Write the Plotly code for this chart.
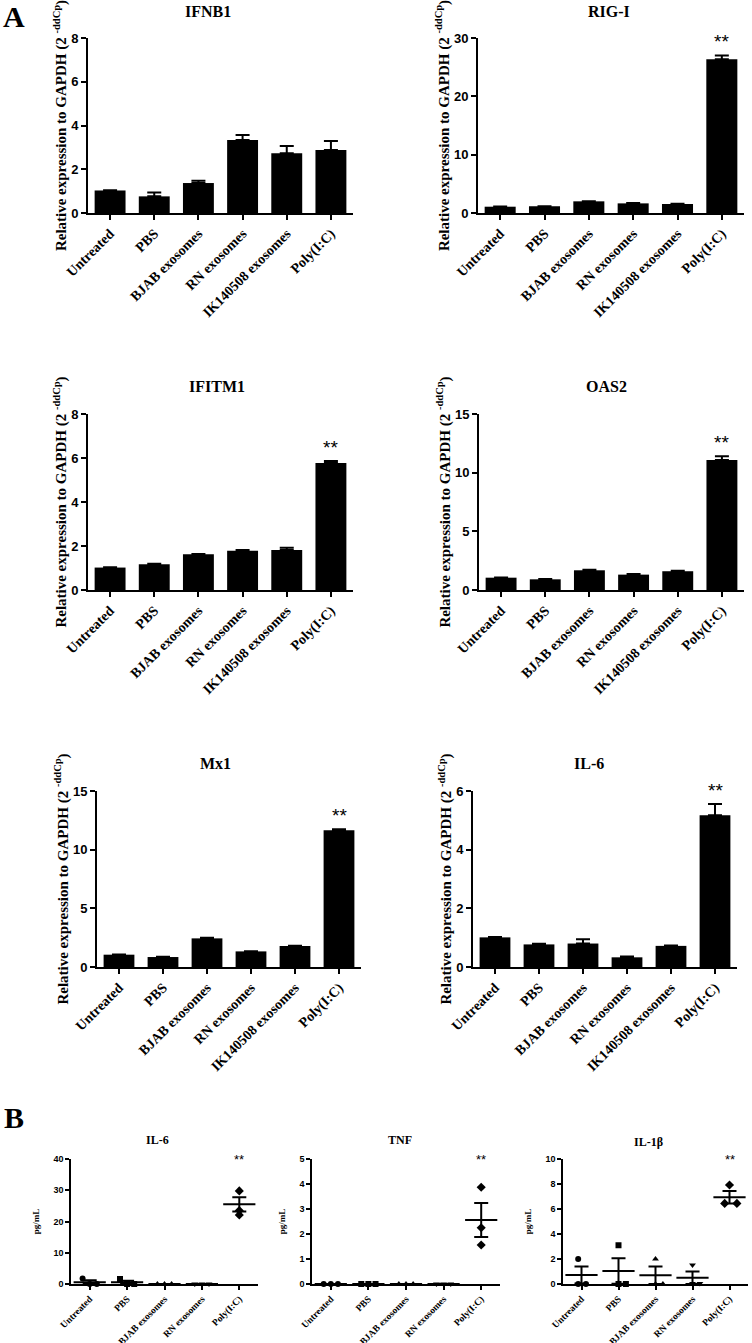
import plotly.graph_objects as go

W, H = 752, 1343
OFF = 0

# ---------------- data ----------------
CATS_A = ["Untreated", "PBS", "BJAB exosomes", "RN exosomes", "IK140508 exosomes", "Poly(I:C)"]
CATS_B = ["Untreated", "PBS", "BJAB exosomes", "RN exosomes", "Poly(I:C)"]

IFNB1_MEAN = [1.03, 0.76, 1.37, 3.34, 2.73, 2.88]
IFNB1_SEM = [0.01, 0.18, 0.10, 0.23, 0.33, 0.41]
RIGI_MEAN = [1.08, 1.14, 2.00, 1.65, 1.54, 26.35]
RIGI_SEM = [0.02, 0.03, 0.03, 0.05, 0.04, 0.65]
IFITM1_MEAN = [1.02, 1.17, 1.62, 1.78, 1.82, 5.77]
IFITM1_SEM = [0.01, 0.02, 0.02, 0.04, 0.10, 0.09]
OAS2_MEAN = [1.05, 0.91, 1.68, 1.31, 1.60, 11.07]
OAS2_SEM = [0.02, 0.02, 0.05, 0.05, 0.04, 0.32]
MX1_MEAN = [1.05, 0.85, 2.44, 1.33, 1.79, 11.65]
MX1_SEM = [0.02, 0.03, 0.06, 0.02, 0.03, 0.08]
IL6A_MEAN = [1.01, 0.77, 0.80, 0.33, 0.72, 5.17]
IL6A_SEM = [0.01, 0.02, 0.15, 0.03, 0.01, 0.39]

# panel B: individual replicates per group, means and SEM
IL6B_POINTS = [[1.8, 0.0, 0.0], [1.6, 0.0, 0.0], [0.0, 0.0, 0.0], [0.0, 0.0, 0.0], [29.8, 23.5, 22.1]]
IL6B_MEAN = [0.6, 0.53, 0.0, 0.0, 25.5]
IL6B_SEM = [0.6, 0.53, 0.0, 0.0, 2.3]
TNF_POINTS = [[0.0, 0.0, 0.0], [0.0, 0.0, 0.0], [0.0, 0.0, 0.0], [0.0, 0.0, 0.0], [3.87, 2.25, 1.56]]
TNF_MEAN = [0.0, 0.0, 0.0, 0.0, 2.56]
TNF_SEM = [0.0, 0.0, 0.0, 0.0, 0.68]
IL1B_POINTS = [[2.0, 0.0, 0.0], [3.1, 0.0, 0.0], [2.0, 0.0, 0.0], [1.52, 0.05, 0.05], [7.92, 6.45, 6.45]]
IL1B_MEAN = [0.72, 1.05, 0.70, 0.50, 6.95]
IL1B_SEM = [0.68, 1.02, 0.70, 0.50, 0.50]

# ---------------- styling / layout ----------------
SERIF = "Liberation Serif"
SANS = "Liberation Sans"
SYMBOLS_B = ["circle", "square", "triangle-up", "triangle-down", "diamond"]

JIT_IL6 = [[-0.19, 0, 0.19], [-0.19, 0, 0.19], [-0.19, 0, 0.19], [-0.19, 0, 0.19], [0, 0, 0]]
JIT_TNF = [[-0.19, 0, 0.19], [-0.19, 0, 0.19], [-0.19, 0, 0.19], [-0.19, 0, 0.19], [0, 0, 0]]
JIT_IL1B = [[-0.09, -0.09, 0.12], [0, 0, 0.2], [0, 0, 0.2], [0, 0, 0.2], [0, -0.13, 0.2]]


def px(x):
    return (x - OFF) / W


def py(y):
    return 1 - (y - OFF) / H


def dx(x0, x1):
    return [px(x0), px(x1)]


def dy(top, bottom):
    return [py(bottom), py(top)]


fig = go.Figure()
layout = dict(
    width=W, height=H, margin=dict(l=0, r=0, t=0, b=0, autoexpand=False),
    paper_bgcolor="white", plot_bgcolor="white", showlegend=False,
)
annotations = []

# (title, mean, sem, ymax, dtick, x0, x1, ytop, ybot, star, title_x, title_y)
PANELS_A = [
    ("IFNB1", IFNB1_MEAN, IFNB1_SEM, 8, 2, 88, 353, 38, 213, False, 208, 12),
    ("RIG-I", RIGI_MEAN, RIGI_SEM, 30, 10, 478, 744, 38, 213, True, 609, 12),
    ("IFITM1", IFITM1_MEAN, IFITM1_SEM, 8, 2, 88, 353, 414, 590, True, 217, 387),
    ("OAS2", OAS2_MEAN, OAS2_SEM, 15, 5, 479, 744, 414, 590, True, 606, 387),
    ("Mx1", MX1_MEAN, MX1_SEM, 15, 5, 97, 361, 791, 967, True, 215, 763),
    ("IL-6", IL6A_MEAN, IL6A_SEM, 6, 2, 473, 737, 791, 967, True, 589, 763),
]

idx = 0
for (title, mean, sem, ymax, dt, x0, x1, yt, yb, star, tx, ty) in PANELS_A:
    idx += 1
    xa = "x" if idx == 1 else f"x{idx}"
    ya = "y" if idx == 1 else f"y{idx}"
    xk = "xaxis" if idx == 1 else f"xaxis{idx}"
    yk = "yaxis" if idx == 1 else f"yaxis{idx}"
    n = len(CATS_A)
    fig.add_trace(go.Bar(
        x=list(range(n)), y=mean, width=0.7, marker=dict(color="black", line=dict(width=0)),
        error_y=dict(type="data", array=sem, arrayminus=[0] * n, symmetric=False,
                     color="black", thickness=2, width=7),
        xaxis=xa, yaxis=ya,
    ))
    layout[xk] = dict(
        domain=dx(x0, x1), anchor=ya, range=[-0.5, n - 0.5], automargin=False,
        tickmode="array", tickvals=list(range(n)), ticktext=CATS_A, tickangle=-45,
        ticks="outside", ticklen=5, tickwidth=2, tickcolor="black",
        showline=True, linecolor="black", linewidth=2, showgrid=False, zeroline=False,
        tickfont=dict(family=SERIF, size=14, color="black", weight="bold"),
    )
    layout[yk] = dict(
        domain=dy(yt, yb), anchor=xa, range=[0, ymax], dtick=dt, tick0=0, automargin=False,
        ticks="outside", ticklen=5, tickwidth=2, tickcolor="black",
        showline=True, linecolor="black", linewidth=2, showgrid=False, zeroline=False,
        tickfont=dict(family=SANS, size=13, color="black", weight="bold"),
        title=dict(text="Relative expression to GAPDH (2 <sup>-ddCp</sup>)",
                   font=dict(family=SERIF, size=15, color="black", weight="bold"), standoff=1),
    )
    annotations.append(dict(
        text=title, x=px(tx), y=py(ty), xref="paper", yref="paper",
        xanchor="center", yanchor="middle", showarrow=False,
        font=dict(family=SERIF, size=16, color="black", weight="bold"),
    ))
    if star:
        annotations.append(dict(
            text="**", x=n - 1, y=mean[-1] + sem[-1], xref=xa, yref=ya,
            xanchor="center", yanchor="bottom", yshift=1, showarrow=False,
            font=dict(family=SANS, size=19, color="black"),
        ))

# panel B
# (title, points, mean, sem, jitter, ymax, dtick, x0, x1, ytop, ybot, title_x, title_y)
PANELS_B = [
    ("IL-6", IL6B_POINTS, IL6B_MEAN, IL6B_SEM, JIT_IL6, 40, 10, 71, 258, 1159, 1284, 157, 1140),
    ("TNF", TNF_POINTS, TNF_MEAN, TNF_SEM, JIT_TNF, 5, 1, 312, 500, 1159, 1284, 400, 1140),
    ("IL-1β", IL1B_POINTS, IL1B_MEAN, IL1B_SEM, JIT_IL1B, 10, 2, 563, 748, 1159, 1284, 648, 1142),
]

for (title, pts, mean, sem, jit, ymax, dt, x0, x1, yt, yb, tx, ty) in PANELS_B:
    idx += 1
    xa, ya = f"x{idx}", f"y{idx}"
    xk, yk = f"xaxis{idx}", f"yaxis{idx}"
    n = len(CATS_B)
    for g in range(n):
        fig.add_trace(go.Scatter(
            x=[g + o for o in jit[g]], y=pts[g], mode="markers",
            marker=dict(symbol=SYMBOLS_B[g], size=7 if g == n - 1 else 6, color="black",
                        line=dict(width=0)),
            cliponaxis=False, xaxis=xa, yaxis=ya,
        ))
    fig.add_trace(go.Scatter(
        x=list(range(n)), y=mean, mode="markers",
        marker=dict(symbol="line-ew", size=23, color="black", line=dict(width=2, color="black")),
        error_y=dict(type="data", array=sem, symmetric=True, color="black", thickness=2, width=7),
        cliponaxis=False, xaxis=xa, yaxis=ya,
    ))
    layout[xk] = dict(
        domain=dx(x0, x1), anchor=ya, range=[-0.5, n - 0.5], automargin=False,
        tickmode="array", tickvals=list(range(n)), ticktext=CATS_B, tickangle=-45,
        ticks="outside", ticklen=4, tickwidth=1.5, tickcolor="black",
        showline=True, linecolor="black", linewidth=1.5, showgrid=False, zeroline=False,
        tickfont=dict(family=SERIF, size=9.5, color="black", weight="bold"),
    )
    layout[yk] = dict(
        domain=dy(yt, yb), anchor=xa, range=[0, ymax], dtick=dt, tick0=0, automargin=False,
        ticks="outside", ticklen=4, tickwidth=1.5, tickcolor="black",
        showline=True, linecolor="black", linewidth=1.5, showgrid=False, zeroline=False,
        tickfont=dict(family=SANS, size=9, color="black", weight="bold"),
        title=dict(text="pg/mL", font=dict(family=SERIF, size=9, color="black", weight="bold"),
                   standoff=12),
    )
    annotations.append(dict(
        text=title, x=px(tx), y=py(ty), xref="paper", yref="paper",
        xanchor="center", yanchor="middle", showarrow=False,
        font=dict(family=SERIF, size=12, color="black", weight="bold"),
    ))
    annotations.append(dict(
        text="**", x=n - 1, y=1.0, xref=xa, yref=f"{ya} domain",
        xanchor="center", yanchor="middle", showarrow=False,
        font=dict(family=SANS, size=13, color="black"),
    ))

annotations.append(dict(text="A", x=px(14), y=py(17), xref="paper", yref="paper",
                        xanchor="center", yanchor="middle", showarrow=False,
                        font=dict(family=SERIF, size=30, color="black", weight="bold")))
annotations.append(dict(text="B", x=px(14), y=py(1117), xref="paper", yref="paper",
                        xanchor="center", yanchor="middle", showarrow=False,
                        font=dict(family=SERIF, size=30, color="black", weight="bold")))

layout["annotations"] = annotations
fig.update_layout(**layout)
fig.write_html("out.html", config={"displayModeBar": False},
               post_script="document.body.style.margin='0';document.body.style.overflow='hidden';")
